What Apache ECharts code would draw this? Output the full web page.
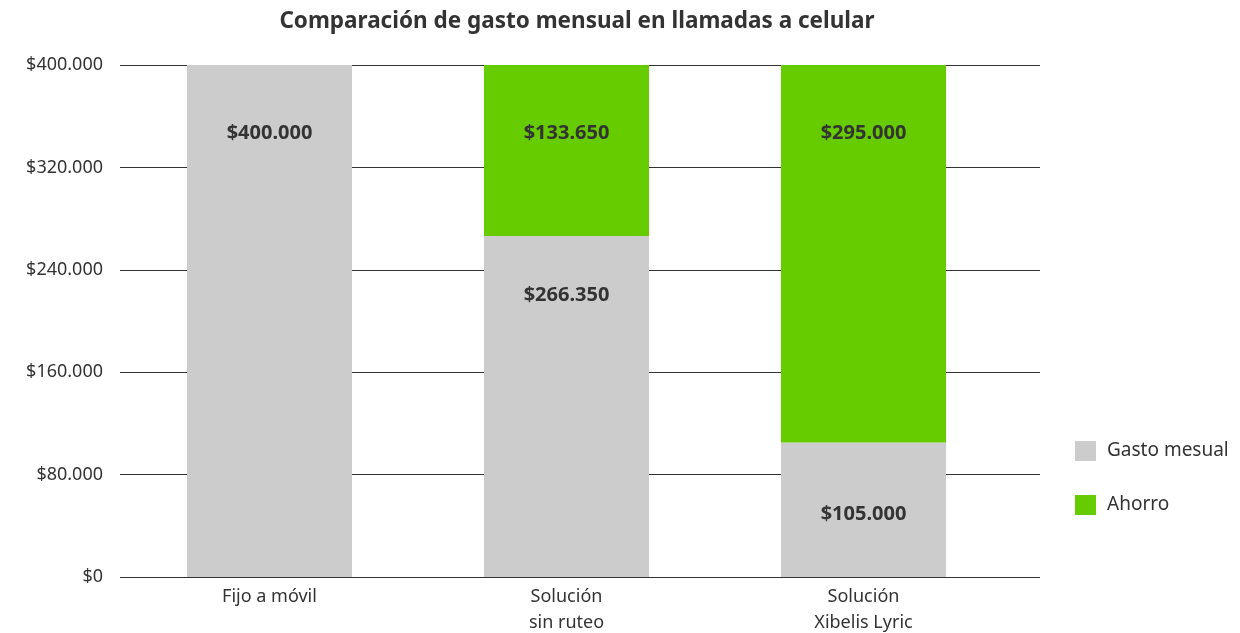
<!DOCTYPE html>
<html>
<head>
<meta charset="utf-8">
<script src="https://cdn.jsdelivr.net/npm/echarts@6/dist/echarts.min.js"></script>
<style>
  html, body { margin: 0; padding: 0; background: #fff; }
  #chart { width: 1240px; height: 633px; }
</style>
</head>
<body>
<div id="chart"></div>
<script>
const CATEGORIES = ["Fijo a móvil", "Solución\nsin ruteo", "Solución\nXibelis Lyric"];
const GASTO = [400000, 266350, 105000];
const AHORRO = [null, 133650, 295000];
const Y_TICKS = [0, 80000, 160000, 240000, 320000, 400000];

const FONT = "'Noto Sans', 'Open Sans', sans-serif";
const GRAY = "#cccccc";
const GREEN = "#66cc00";

function formatPeso(value) {
  return "$" + String(Math.round(value)).replace(/\B(?=(\d{3})+(?!\d))/g, ".");
}

const barLabel = {
  show: true,
  position: "insideTop",
  distance: 58,
  color: "#333",
  fontFamily: FONT,
  fontSize: 20,
  fontWeight: "bold",
  formatter: (p) => formatPeso(p.value),
};

// small per-bar nudges so the labels sit where the original puts them
const gastoDistance = [58, 49, 62];

const chart = echarts.init(document.getElementById("chart"), undefined, { renderer: "canvas" });

chart.setOption({
  animation: false,
  title: {
    text: "Comparación de gasto mensual en llamadas a celular",
    left: 572,
    textAlign: "center",
    top: 5,
    textStyle: { fontFamily: FONT, fontSize: 22.5, fontWeight: "bold", color: "#333" },
  },
  legend: {
    orient: "vertical",
    left: 1075,
    top: 441,
    padding: 0,
    itemWidth: 21,
    itemHeight: 20,
    itemGap: 34,
    icon: "rect",
    textStyle: { fontFamily: FONT, fontSize: 19, color: "#333", padding: [0, 0, 0, 6] },
    data: ["Gasto mesual", "Ahorro"],
  },
  grid: [
    { left: 120, right: 200, top: 65, bottom: 56, outerBoundsMode: "none" },
    { left: 121, right: 228, top: 65, bottom: 56, outerBoundsMode: "none" },
  ],
  xAxis: [
    { gridIndex: 0, type: "category", data: [""], show: false },
    {
      gridIndex: 1,
      type: "category",
      data: CATEGORIES,
      axisLine: { show: false },
      axisTick: { show: false },
      axisLabel: { fontFamily: FONT, fontSize: 18, color: "#333", lineHeight: 26, margin: 7 },
    },
  ],
  yAxis: [
    {
      gridIndex: 0,
      type: "value",
      min: Y_TICKS[0],
      max: Y_TICKS[Y_TICKS.length - 1],
      interval: Y_TICKS[1] - Y_TICKS[0],
      axisLine: { show: false },
      axisTick: { show: false },
      axisLabel: { formatter: formatPeso, fontFamily: FONT, fontSize: 18, color: "#333", margin: 17 },
      splitLine: { show: true, lineStyle: { color: "#333", width: 1 } },
    },
    { gridIndex: 1, type: "value", min: 0, max: 400000, show: false, splitLine: { show: false } },
  ],
  series: [
    {
      name: "Gasto mesual",
      type: "bar",
      stack: "total",
      xAxisIndex: 1,
      yAxisIndex: 1,
      barWidth: 165,
      itemStyle: { color: GRAY },
      label: barLabel,
      data: GASTO.map((v, i) => ({ value: v, label: { distance: gastoDistance[i] } })),
    },
    {
      name: "Ahorro",
      type: "bar",
      stack: "total",
      xAxisIndex: 1,
      yAxisIndex: 1,
      barWidth: 165,
      itemStyle: { color: GREEN },
      label: barLabel,
      data: AHORRO,
    },
  ],
});
</script>
</body>
</html>
